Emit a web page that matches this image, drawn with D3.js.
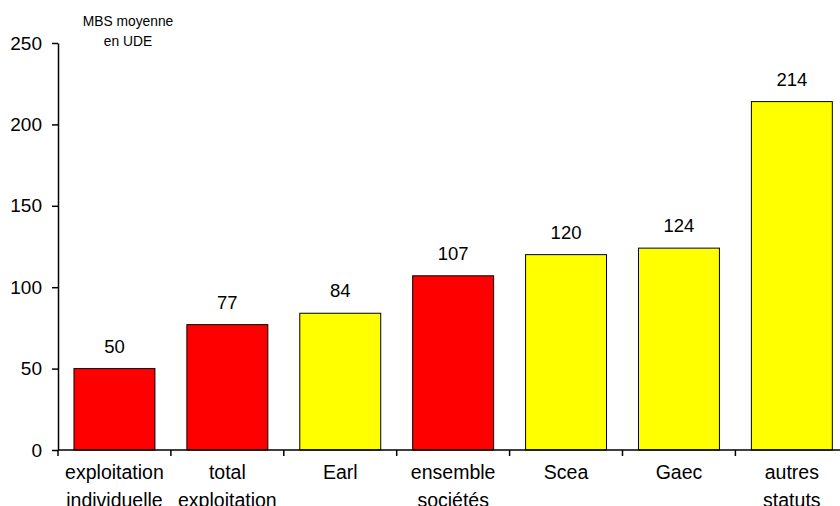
<!DOCTYPE html>
<html>
<head>
<meta charset="utf-8">
<script src="https://cdn.jsdelivr.net/npm/d3@7/dist/d3.min.js"></script>
<style>
  html, body { margin: 0; padding: 0; background: #fff; }
  svg { display: block; font-family: "Liberation Sans", Arial, sans-serif; }
</style>
</head>
<body>
<svg id="chart" width="840" height="506"></svg>
<script>
// Marge brute standard moyenne par statut juridique (UDE)
const categories = [
  ["exploitation", "individuelle"],
  ["total", "exploitation"],
  ["Earl"],
  ["ensemble", "sociétés"],
  ["Scea"],
  ["Gaec"],
  ["autres", "statuts"]
];
const values = [50, 77, 84, 107, 120, 124, 214];
const barColors = ["#FF0000", "#FF0000", "#FFFF00", "#FF0000", "#FFFF00", "#FFFF00", "#FFFF00"];
const yTicks = [0, 50, 100, 150, 200, 250];
const unitLabel = ["MBS moyenne", "en UDE"];

const svg = d3.select("#chart");
const x0 = 58, y0 = 450, yTop = 43, step = 112.9;

const x = d3.scaleBand()
  .domain(d3.range(values.length))
  .range([x0, x0 + step * values.length])
  .paddingInner(0.283)
  .paddingOuter(0.1415);

const y = d3.scaleLinear().domain([0, 250]).range([y0, yTop]);

// Bars
svg.append("g").selectAll("rect")
  .data(values)
  .join("rect")
  .attr("x", (d, i) => x(i))
  .attr("y", d => y(d))
  .attr("width", x.bandwidth())
  .attr("height", d => y(0) - y(d))
  .attr("fill", (d, i) => barColors[i])
  .attr("stroke", "#000")
  .attr("stroke-width", 1);

// Value labels
svg.append("g").selectAll("text")
  .data(values)
  .join("text")
  .attr("x", (d, i) => x(i) + x.bandwidth() / 2)
  .attr("y", d => y(d) - 16)
  .attr("text-anchor", "middle")
  .attr("font-size", 18.5)
  .attr("fill", "#000")
  .text(d => d);

// Y axis
const yAxis = svg.append("g").attr("transform", `translate(${x0},0)`)
  .call(d3.axisLeft(y).tickValues(yTicks).tickSize(6).tickPadding(10).tickSizeOuter(0));
yAxis.select(".domain").attr("stroke", "#000").attr("stroke-width", 1.5);
yAxis.selectAll(".tick line").attr("stroke", "#000").attr("stroke-width", 1.5);
yAxis.selectAll(".tick text")
  .attr("font-size", 19)
  .attr("font-family", "Liberation Sans, Arial, sans-serif")
  .attr("fill", "#000");

// X axis line with category separators
const xg = svg.append("g");
xg.append("line")
  .attr("x1", x0).attr("x2", x0 + step * values.length)
  .attr("y1", y0).attr("y2", y0)
  .attr("stroke", "#000").attr("stroke-width", 1.5);
xg.selectAll("line.sep")
  .data(d3.range(values.length + 1))
  .join("line")
  .attr("class", "sep")
  .attr("x1", i => x0 + i * step).attr("x2", i => x0 + i * step)
  .attr("y1", y0).attr("y2", y0 + 6)
  .attr("stroke", "#000").attr("stroke-width", 1.5);

// Category labels
xg.selectAll("text.cat")
  .data(categories)
  .join("text")
  .attr("class", "cat")
  .attr("x", (d, i) => x(i) + x.bandwidth() / 2)
  .attr("y", 479)
  .attr("text-anchor", "middle")
  .attr("font-size", 19.5)
  .attr("fill", "#000")
  .each(function(d) {
    const t = d3.select(this);
    d.forEach((line, k) => {
      t.append("tspan")
        .attr("x", t.attr("x"))
        .attr("dy", k === 0 ? 0 : 28)
        .text(line);
    });
  });

// Unit label
svg.append("text")
  .attr("x", 128)
  .attr("y", 26)
  .attr("text-anchor", "middle")
  .attr("font-size", 13.8)
  .attr("fill", "#000")
  .selectAll("tspan")
  .data(unitLabel)
  .join("tspan")
  .attr("x", 128)
  .attr("dy", (d, i) => i === 0 ? 0 : 19.5)
  .text(d => d);
</script>
</body>
</html>
